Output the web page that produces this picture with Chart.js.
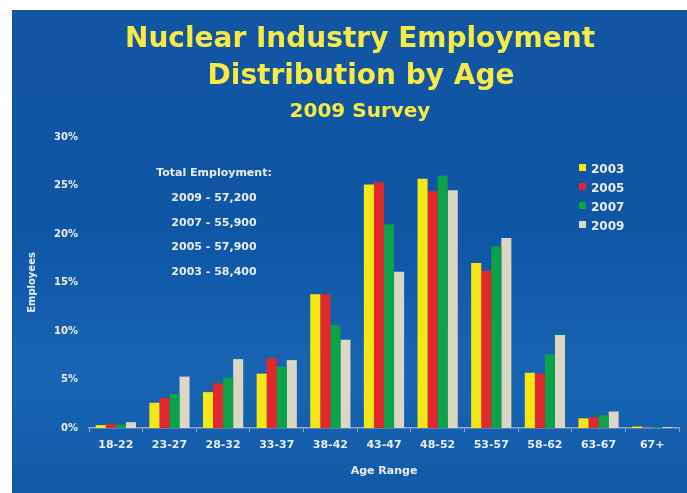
<!DOCTYPE html>
<html>
<head>
<meta charset="utf-8">
<script src="https://cdn.jsdelivr.net/npm/chart.js@4"></script>
<style>
  html, body { margin: 0; padding: 0; background: #fff; }
  #wrap { width: 687px; height: 493px; }
</style>
</head>
<body>
<div id="wrap"><canvas id="ageChart" width="687" height="493"></canvas></div>
<script>
// -------- data -------- //
var ageRanges = ['18-22', '23-27', '28-32', '33-37', '38-42', '43-47', '48-52', '53-57', '58-62', '63-67', '67+'];
var years = ['2003', '2005', '2007', '2009'];
var pct2003 = [0.3, 2.6, 3.7, 5.6, 13.8, 25.1, 25.7, 17.0, 5.7, 1.0, 0.15];
var pct2005 = [0.4, 3.1, 4.6, 7.2, 13.8, 25.3, 24.4, 16.2, 5.6, 1.1, 0.05];
var pct2007 = [0.35, 3.5, 5.2, 6.3, 10.6, 21.0, 26.0, 18.7, 7.6, 1.3, 0.1];
var pct2009 = [0.6, 5.3, 7.1, 7.0, 9.1, 16.1, 24.5, 19.6, 9.6, 1.7, 0.1];
var yTicks = [0, 5, 10, 15, 20, 25, 30];
var totals = ['2009 - 57,200', '2007 - 55,900', '2005 - 57,900', '2003 - 58,400'];

var barColors = ['#f3e816', '#e3282b', '#0ba24a', '#dcd6c4'];
var txt = '#e9ecf3';
var fam = '"DejaVu Sans", Verdana, sans-serif';

// slide background, title block, totals box and legend
var slide = {
    id: 'slide',
    beforeDraw: function (chart) {
        var c = chart.ctx;
        c.save();
        c.fillStyle = '#ffffff';
        c.fillRect(0, 0, chart.width, chart.height);
        var g = c.createLinearGradient(0, 10, 0, chart.height);
        g.addColorStop(0, '#1255a3');
        g.addColorStop(0.45, '#0f56a5');
        g.addColorStop(0.75, '#1864b3');
        g.addColorStop(1, '#125aa8');
        c.fillStyle = g;
        c.fillRect(12, 10, chart.width - 12, chart.height - 10);
        c.restore();
    },
    afterDraw: function (chart) {
        var c = chart.ctx;
        c.save();
        c.textAlign = 'center';
        c.textBaseline = 'alphabetic';
        c.fillStyle = '#f6ea45';
        c.font = 'bold 28px ' + fam;
        c.fillText('Nuclear Industry Employment', 360, 47);
        c.fillText('Distribution by Age', 361, 84);
        c.font = 'bold 20px ' + fam;
        c.fillText('2009 Survey', 360, 117);

        c.fillStyle = txt;
        c.font = 'bold 11px ' + fam;
        c.fillText('Total Employment:', 214, 176);
        totals.forEach(function (t, i) {
            c.fillText(t, 214, 201 + i * 24.6);
        });

        c.textAlign = 'left';
        c.font = 'bold 12px ' + fam;
        years.forEach(function (y, i) {
            var yy = 168 + i * 19;
            c.fillStyle = barColors[i];
            c.fillRect(579, yy - 4, 7, 7);
            c.fillStyle = txt;
            c.fillText(y, 591, yy + 4.5);
        });
        c.restore();
    }
};

var ctx = document.getElementById('ageChart').getContext('2d');

new Chart(ctx, {
    type: 'bar',
    data: {
        labels: ageRanges,
        datasets: [
            { label: years[0], data: pct2003, backgroundColor: barColors[0] },
            { label: years[1], data: pct2005, backgroundColor: barColors[1] },
            { label: years[2], data: pct2007, backgroundColor: barColors[2] },
            { label: years[3], data: pct2009, backgroundColor: barColors[3] }
        ]
    },
    options: {
        responsive: false,
        animation: false,
        layout: { padding: { left: 12, right: 8, top: 137, bottom: 10 } },
        datasets: { bar: { categoryPercentage: 0.75, barPercentage: 1.0 } },
        plugins: {
            legend: { display: false },
            tooltip: { enabled: false }
        },
        scales: {
            x: {
                grid: { display: true, drawOnChartArea: false, drawTicks: true, tickLength: 4, color: '#8ea6cf' },
                border: { color: '#8ea6cf', width: 1.5 },
                ticks: { color: txt, padding: 7, font: { family: fam, size: 11, weight: 'bold' } },
                title: { display: true, text: 'Age Range', color: txt, padding: { top: 6, bottom: 5 },
                         font: { family: fam, size: 11, weight: 'bold' } },
                afterFit: function (s) { s.height = 55; }
            },
            y: {
                min: 0,
                max: 30,
                afterBuildTicks: function (s) { s.ticks = yTicks.map(function (v) { return { value: v }; }); },
                grid: { display: false, drawTicks: false },
                border: { display: false },
                ticks: { color: txt, padding: 11, font: { family: fam, size: 10, weight: 'bold' },
                         callback: function (v) { return v + '%'; } },
                title: { display: true, text: 'Employees', color: txt, padding: { top: 14, bottom: 0 },
                         font: { family: fam, size: 10, weight: 'bold' } },
                afterFit: function (s) { s.width = 77; }
            }
        }
    },
    plugins: [slide]
});
</script>
</body>
</html>
